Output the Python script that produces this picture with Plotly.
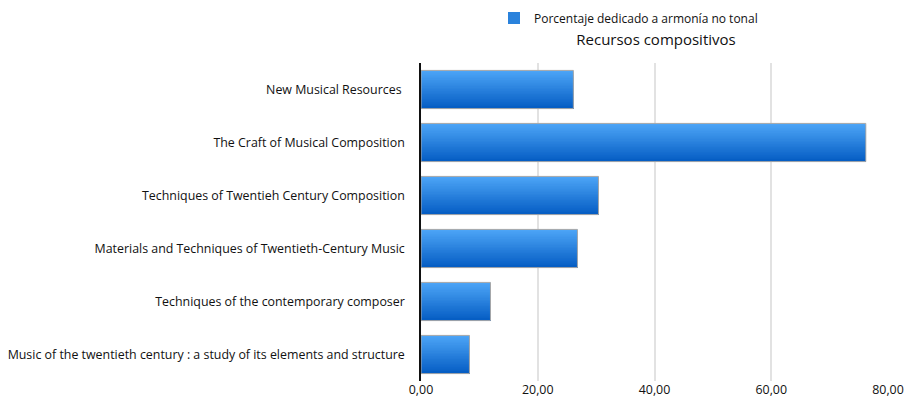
import plotly.graph_objects as go

categories = [
    "New Musical Resources ",
    "The Craft of Musical Composition",
    "Techniques of Twentieh Century Composition",
    "Materials and Techniques of Twentieth-Century Music",
    "Techniques of the contemporary composer",
    "Music of the twentieth century : a study of its elements and structure",
]
values = [26.1, 76.2, 30.4, 26.8, 11.9, 8.3]
series_name = "Porcentaje dedicado a armonía no tonal"
title_text = "Recursos compositivos"
x_ticks = [0, 20, 40, 60, 80]

# gradient styling for the bars (top light -> bottom dark)
top_rgb = (76, 164, 246)
bot_rgb = (6, 94, 196)
n_slices = 24
bar_w = 0.72

fig = go.Figure()
sw = bar_w / n_slices
for i in range(n_slices):
    t = i / (n_slices - 1)
    c = tuple(round(a + (b - a) * t) for a, b in zip(top_rgb, bot_rgb))
    fig.add_trace(go.Bar(
        x=values, y=categories, orientation="h", name=series_name,
        marker=dict(color="rgb(%d,%d,%d)" % c, line=dict(width=0)),
        width=bar_w - i * sw, offset=-bar_w / 2 + i * sw,
        showlegend=False, hoverinfo="skip",
    ))
fig.add_trace(go.Bar(
    x=values, y=categories, orientation="h", name=series_name,
    marker=dict(color="rgba(0,0,0,0)", line=dict(color="#a8a8a8", width=1)),
    width=bar_w, offset=-bar_w / 2, showlegend=False,
))
# legend entry
fig.add_trace(go.Bar(
    x=[None], y=[None], orientation="h", name=series_name,
    marker=dict(color="#2a82dc", line=dict(width=0)), showlegend=True,
))

font = "Open Sans, Liberation Sans, Arial, sans-serif"
fig.update_layout(
    width=908, height=403,
    barmode="overlay",
    margin=dict(l=421, r=20, t=63, b=22),
    paper_bgcolor="white", plot_bgcolor="white",
    separators=",.",
    font=dict(family=font, size=12.4, color="#111"),
    title=dict(text=title_text, x=656/908, xanchor="center", xref="container",
               y=1-40/403, yanchor="middle", yref="container",
               font=dict(size=15, color="#111")),
    showlegend=True,
    legend=dict(orientation="h", x=494/908, xanchor="left", xref="container",
                y=1-18/403, yanchor="middle", yref="container",
                font=dict(size=12), itemwidth=30, bgcolor="rgba(0,0,0,0)"),
    xaxis=dict(range=[0, 80], tickvals=x_ticks, tickformat=".2f",
               showgrid=True, gridcolor="#e2e2e2", gridwidth=1.5,
               zeroline=False, showline=False, ticks="", automargin=False),
    yaxis=dict(autorange="reversed", showline=True, linecolor="#111", linewidth=1.5,
               showgrid=False, ticks="", ticklabelstandoff=12, automargin=False),
)
fig.write_html("out.html")
